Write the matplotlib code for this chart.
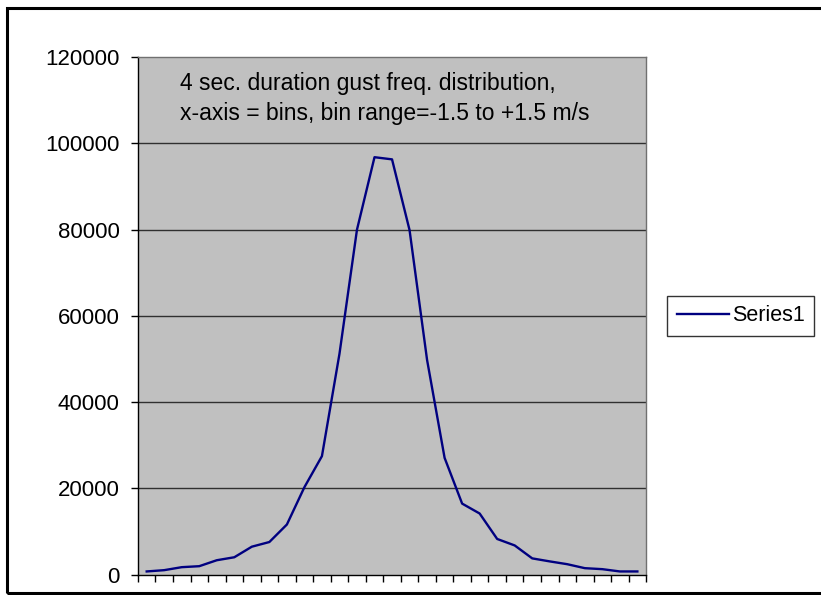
import matplotlib
matplotlib.use("Agg")
import matplotlib.pyplot as plt
import numpy as np
from matplotlib.patches import Rectangle

plt.rcParams['font.family'] = ['Liberation Sans', 'DejaVu Sans']

# gust counts per bin (29 bins, -1.5 .. +1.5 m/s)
bins = np.arange(1, 30)
counts = [770, 1070, 1760, 1990, 3370, 4060, 6510, 7590, 11650, 20300,
          27500, 51200, 80000, 96800, 96300, 79900, 49800, 27100, 16500, 14200,
          8300, 6800, 3800, 3100, 2450, 1530, 1300, 770, 770]
series_name = "Series1"
note = "4 sec. duration gust freq. distribution,\nx-axis = bins, bin range=-1.5 to +1.5 m/s"
yticks = np.arange(0, 120001, 20000)

fig = plt.figure(figsize=(8.21, 5.95), dpi=100)
ax = fig.add_axes([0.168, 0.034, 0.619, 0.870])
ax.set_facecolor('#c0c0c0')

for y in yticks[1:-1]:
    ax.axhline(y, color='#303030', lw=1.0, zorder=1)

line, = ax.plot(bins, counts, color='#000080', lw=1.7, zorder=3, label=series_name)

ax.set_xlim(0.5, 29.5)
ax.set_ylim(0, 120000)
ax.set_xticks(np.arange(0.5, 30, 1))
ax.set_xticklabels([])
ax.set_yticks(yticks)
ax.set_yticklabels([str(v) for v in yticks], fontsize=16)
ax.tick_params(axis='both', direction='out', length=5, width=1, colors='black')
ax.tick_params(axis='y', pad=8)
for s in ax.spines.values():
    s.set_color('#707070')
    s.set_linewidth(1)
ax.spines['bottom'].set_color('black')
ax.spines['left'].set_color('black')

ax.text(0.083, 0.972, note, transform=ax.transAxes, fontsize=16.5, va='top',
        ha='left', linespacing=1.4)

leg = fig.legend(handles=[line], loc='center left', bbox_to_anchor=(0.813, 0.469),
                 fontsize=15.5, frameon=True, fancybox=False, handlelength=2.4,
                 borderpad=0.45, handletextpad=0.15, borderaxespad=0)
leg.get_frame().set_edgecolor('black')
leg.get_frame().set_linewidth(1)

fig.patches.append(Rectangle((0.008, 0.003), 0.995, 0.983, transform=fig.transFigure,
                             fill=False, edgecolor='black', lw=2.2))

fig.savefig('out.png', dpi=100)
